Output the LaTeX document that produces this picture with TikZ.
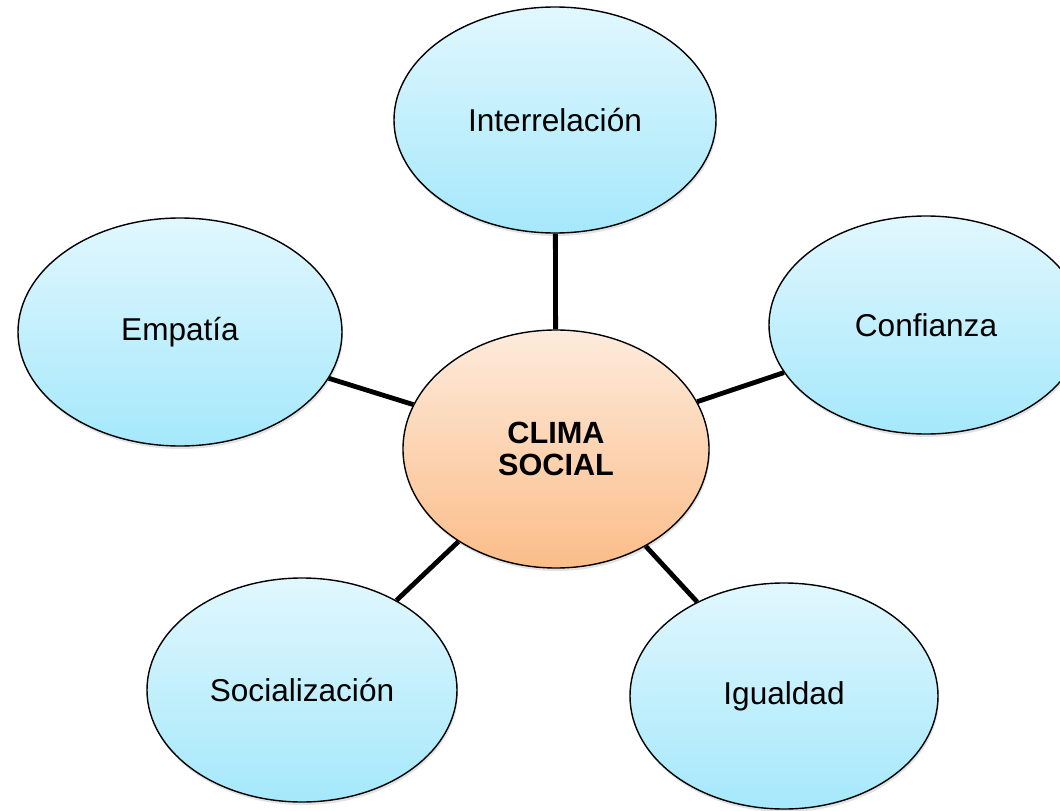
\documentclass[tikz,border=0pt]{standalone}
\usepackage{fontspec}
\setmainfont{Liberation Sans}
\usetikzlibrary{shapes.geometric,shadows}
\definecolor{bluetop}{HTML}{E1F7FD}
\definecolor{bluebot}{HTML}{A5E8FC}
\definecolor{orangetop}{HTML}{FDEBDC}
\definecolor{orangebot}{HTML}{FBBD89}
\tikzset{
  bubble/.style={ellipse, draw=black, line width=1.4bp, inner sep=0pt,
    top color=bluetop, bottom color=bluebot,
    drop shadow={opacity=0.22, shadow xshift=1bp, shadow yshift=-3bp},
    font=\fontsize{31.7}{34}\selectfont, align=center},
  hub/.style={bubble, top color=orangetop, bottom color=orangebot,
    font=\fontsize{30.8}{32}\selectfont\bfseries},
  link/.style={line width=4.8bp, draw=black}
}
\begin{document}
\begin{tikzpicture}[x=1bp,y=-1bp]
\useasboundingbox (0,0) rectangle (1060,811);
\clip (0,0) rectangle (1060,811);
\node[hub, minimum width=306bp, minimum height=238bp] (c) at (556,449) {CLIMA\\SOCIAL};
\node[bubble, minimum width=322bp, minimum height=226bp] (i) at (555,120) {Interrelación};
\node[bubble, minimum width=324bp, minimum height=228bp] (e) at (180,332) {Empatía};
\node[bubble, minimum width=314bp, minimum height=218bp] (f) at (926,325) {Confianza};
\node[bubble, minimum width=310bp, minimum height=224bp] (s) at (302,690) {Socialización};
\node[bubble, minimum width=308bp, minimum height=226bp] (g) at (784,696) {Igualdad};
\draw[link] (c) -- (i);
\draw[link] (c) -- (e);
\draw[link] (c) -- (f);
\draw[link] (c) -- (s);
\draw[link] (c) -- (g);
\end{tikzpicture}
\end{document}
